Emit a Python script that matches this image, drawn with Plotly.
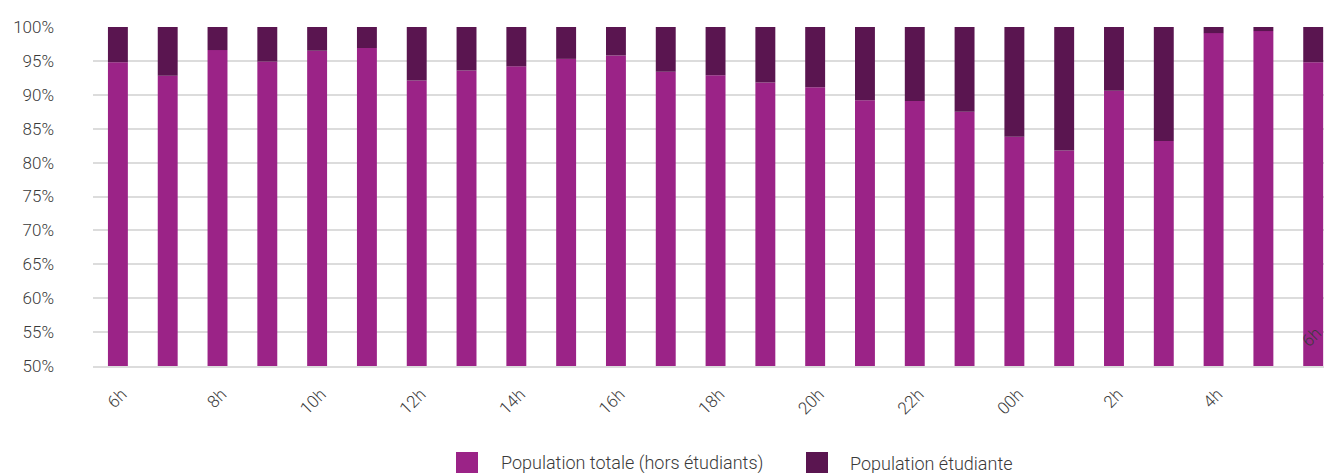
import plotly.graph_objects as go

hours = ["6h", "7h", "8h", "9h", "10h", "11h", "12h", "13h", "14h", "15h", "16h", "17h",
         "18h", "19h", "20h", "21h", "22h", "23h", "00h", "1h", "2h", "3h", "4h", "5h", "6h"]
pop_hors_etudiants = [94.8, 92.8, 96.6, 94.9, 96.5, 96.9, 92.1, 93.6, 94.2, 95.3, 95.8, 93.4,
                      92.9, 91.8, 91.1, 89.2, 89.1, 87.5, 83.8, 81.8, 90.6, 83.2, 99.1, 99.4, 94.8]
pop_etudiante = [round(100 - v, 1) for v in pop_hors_etudiants]
tick_labels_shown = ["6h", "8h", "10h", "12h", "14h", "16h", "18h", "20h", "22h", "00h", "2h", "4h"]

series_names = ["Population totale (hors étudiants)", "Population étudiante"]
colors = ["#9b2387", "#5a1550"]

W, H = 1324, 473
L, R, T, B = 93, 0, 27, 107
PW, PH = W - L - R, H - T - B

def px_x(x):
    return (x - L) / PW

def px_y(y):
    return (H - B - y) / PH

xs = list(range(len(hours)))
font_family = "Roboto"
text_color = "#3a3a3a"

fig = go.Figure()
fig.add_trace(go.Bar(x=xs, y=pop_hors_etudiants, name=series_names[0],
                     marker=dict(color=colors[0], line=dict(width=0)),
                     base=0, showlegend=False))
fig.add_trace(go.Bar(x=xs, y=pop_etudiante, name=series_names[1],
                     marker=dict(color=colors[1], line=dict(width=0)),
                     base=pop_hors_etudiants, showlegend=False))

tickvals = [xs[i] for i in range(0, len(hours) - 1, 2)]

fig.update_layout(
    width=W, height=H,
    margin=dict(l=L, r=R, t=T, b=B, pad=0),
    paper_bgcolor="white", plot_bgcolor="white",
    barmode="overlay", bargap=0.6,
    font=dict(family=font_family, size=17, color=text_color, weight=300),
    xaxis=dict(range=[-0.5, (W - 118) / 49.8], tickmode="array", tickvals=tickvals,
               ticktext=tick_labels_shown, tickangle=-45, showgrid=False,
               showline=True, linecolor="#dcdcdc", linewidth=1.5,
               ticks="", ticklabelstandoff=10, ticklabelshift=4, tickfont=dict(size=17)),
    yaxis=dict(range=[50, 100], dtick=5, ticksuffix="%", showgrid=True,
               gridcolor="#dcdcdc", gridwidth=1.5, zeroline=False, showline=False,
               ticks="", ticklabelstandoff=38, tickfont=dict(size=17)),
)

# last "6h" label placed inside the plot, as in the original
fig.add_annotation(x=xs[-1], y=54.3, xref="x", yref="y", text=hours[-1], textangle=-45,
                   showarrow=False, xshift=-2, font=dict(size=17, color=text_color))

# custom legend
legend_items = [(456, 499), (806, 848)]
for (sx, tx), name, col in zip(legend_items, series_names, colors):
    fig.add_shape(type="rect", xref="paper", yref="paper",
                  x0=px_x(sx), x1=px_x(sx + 22), y0=px_y(473), y1=px_y(452),
                  fillcolor=col, line=dict(width=0))
    fig.add_annotation(xref="paper", yref="paper", x=px_x(tx), y=px_y(463),
                       xanchor="left", yanchor="middle", text=name, showarrow=False,
                       font=dict(size=18, color=text_color))

fig.write_html("out.html")
